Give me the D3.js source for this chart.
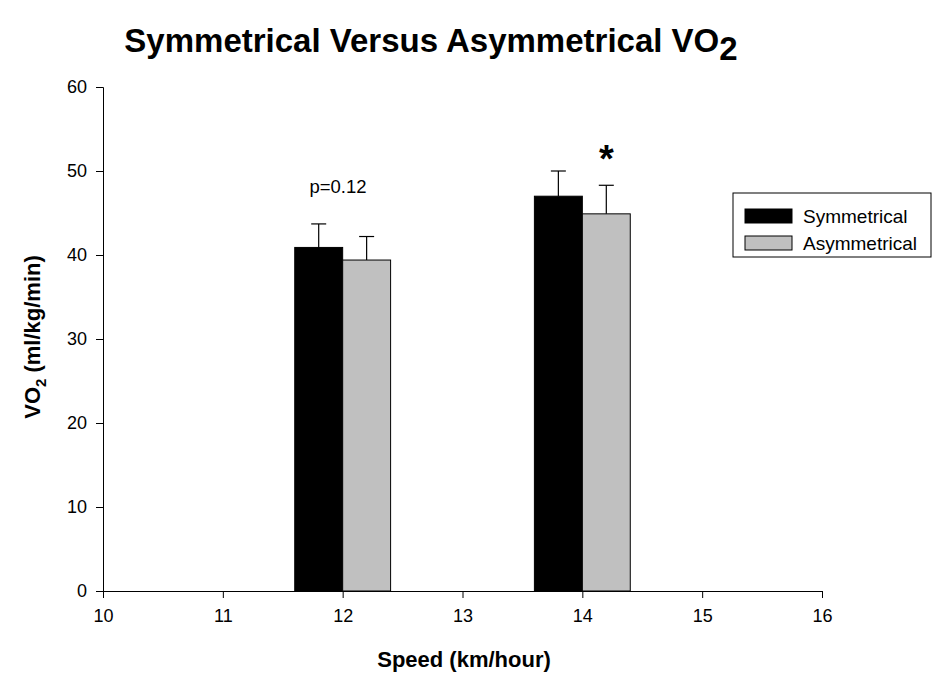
<!DOCTYPE html>
<html>
<head>
<meta charset="utf-8">
<script src="https://cdn.jsdelivr.net/npm/d3@7"></script>
<style>
body { margin: 0; background: #fff; }
text { font-family: "Liberation Sans", Arial, sans-serif; }
</style>
</head>
<body>
<div id="chart"></div>
<script>
// data
var speeds = [12, 14];
var seriesNames = ["Symmetrical", "Asymmetrical"];
var symMeans = [40.9, 47.0];
var symErr = [2.8, 3.0];
var asymMeans = [39.4, 44.9];
var asymErr = [2.8, 3.4];
var xTicks = [10, 11, 12, 13, 14, 15, 16];
var yTicks = [0, 10, 20, 30, 40, 50, 60];
var barColors = ["#000000", "#c0c0c0"];

var svg = d3.select("#chart").append("svg").attr("width", 934).attr("height", 674);

var x = d3.scaleLinear().domain([10, 16]).range([103, 822]);
var y = d3.scaleLinear().domain([0, 60]).range([591, 87]);
var barW = 0.4;

// build rows for the bars
var rows = [];
speeds.forEach((s, i) => {
    rows.push({speed: s, k: 0, mean: symMeans[i], err: symErr[i]});
    rows.push({speed: s, k: 1, mean: asymMeans[i], err: asymErr[i]});
});

var bars = svg.append("g");
bars.selectAll("rect").data(rows).enter().append("rect")
    .attr("x", d => x(d.k == 0 ? d.speed - barW : d.speed))
    .attr("y", d => y(d.mean))
    .attr("width", d => x(d.speed + barW) - x(d.speed))
    .attr("height", d => y(0) - y(d.mean))
    .attr("fill", d => barColors[d.k])
    .attr("stroke", "#000").attr("stroke-width", 1);

// error bars (upper only)
var eb = svg.append("g").attr("stroke", "#000").attr("stroke-width", 1.2);
rows.forEach(d => {
    var cx = x(d.k == 0 ? d.speed - barW / 2 : d.speed + barW / 2);
    eb.append("line").attr("x1", cx).attr("x2", cx).attr("y1", y(d.mean)).attr("y2", y(d.mean + d.err));
    eb.append("line").attr("x1", cx - 7.5).attr("x2", cx + 7.5).attr("y1", y(d.mean + d.err)).attr("y2", y(d.mean + d.err));
});

// axes
var xAxis = svg.append("g").attr("transform", "translate(0," + y(0) + ")")
    .call(d3.axisBottom(x).tickValues(xTicks).tickSizeOuter(0).tickSize(7).tickPadding(11).tickFormat(d3.format("d")));
var yAxis = svg.append("g").attr("transform", "translate(" + x(10) + ",0)")
    .call(d3.axisLeft(y).tickValues(yTicks).tickSizeOuter(0).tickSize(7).tickPadding(9));
[xAxis, yAxis].forEach(a => {
    a.selectAll("text").attr("font-size", 18).attr("fill", "#000").attr("font-family", "Liberation Sans, Arial, sans-serif");
    a.selectAll("line,path").attr("stroke", "#000");
});

// annotations
svg.append("text").attr("x", 338).attr("y", 193).attr("text-anchor", "middle")
    .attr("font-size", 18.5).text("p=0.12");
svg.append("text").attr("x", x(14 + barW / 2)).attr("y", 172).attr("text-anchor", "middle")
    .attr("font-size", 38).attr("font-weight", "bold").text("*");

// title
var title = svg.append("text").attr("x", 431).attr("y", 52).attr("text-anchor", "middle")
    .attr("font-size", 33).attr("font-weight", "bold");
title.append("tspan").text("Symmetrical Versus Asymmetrical VO");
title.append("tspan").attr("dy", 8).text("2");

// axis titles
svg.append("text").attr("x", 464).attr("y", 667).attr("text-anchor", "middle")
    .attr("font-size", 22).attr("font-weight", "bold").text("Speed (km/hour)");
var yl = svg.append("text").attr("transform", "translate(40,337) rotate(-90)").attr("text-anchor", "middle")
    .attr("font-size", 22).attr("font-weight", "bold");
yl.append("tspan").text("VO");
yl.append("tspan").attr("dy", 6).attr("font-size", 15).text("2");
yl.append("tspan").attr("dy", -6).text(" (ml/kg/min)");

// legend
var lg = svg.append("g");
lg.append("rect").attr("x", 733).attr("y", 193).attr("width", 198).attr("height", 64)
    .attr("fill", "#fff").attr("stroke", "#000");
seriesNames.forEach((n, i) => {
    lg.append("rect").attr("x", 745).attr("y", 209 + i * 27).attr("width", 47).attr("height", 14)
        .attr("fill", barColors[i]).attr("stroke", "#000");
    lg.append("text").attr("x", 803).attr("y", 223 + i * 27).attr("font-size", 19).text(n);
});
</script>
</body>
</html>
